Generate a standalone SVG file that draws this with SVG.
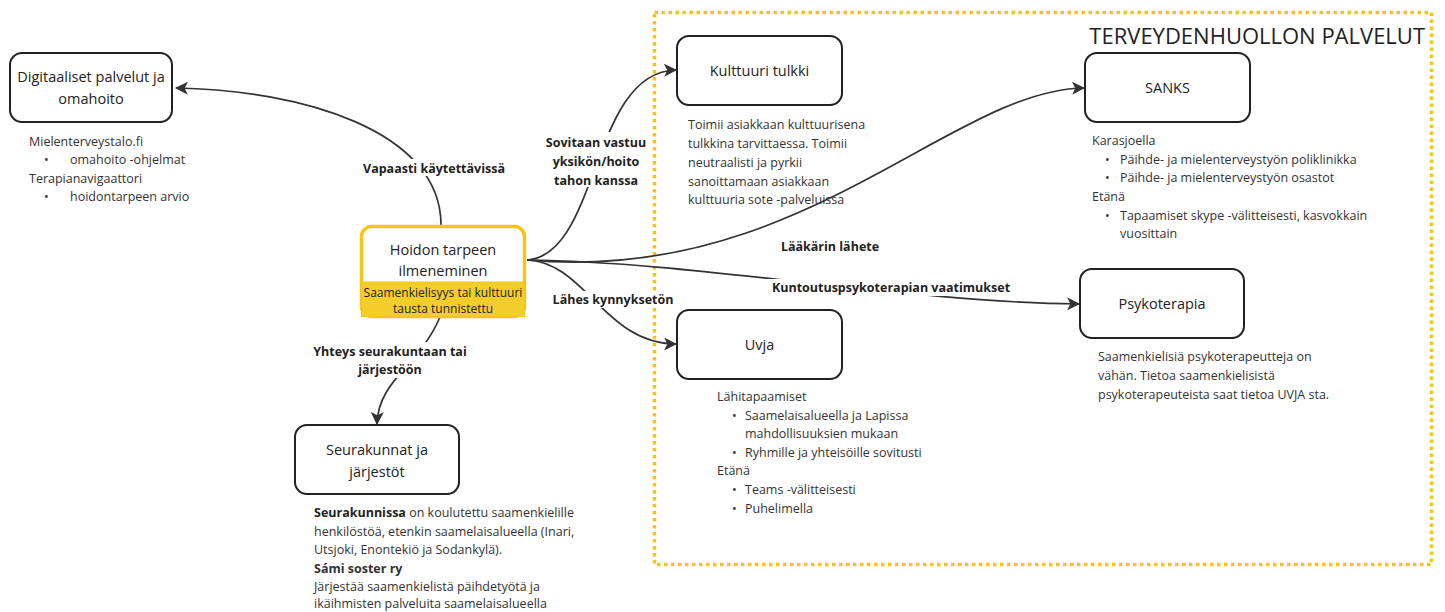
<svg xmlns="http://www.w3.org/2000/svg" width="1445" height="612" viewBox="0 0 1445 612">
<style>
.box{fill:#fff;stroke:#222;stroke-width:2}
.nt{font-family:"Open Sans","Liberation Sans",sans-serif;font-size:14.5px;fill:#222;text-anchor:middle}
.st{font-family:"Open Sans","Liberation Sans",sans-serif;font-size:12px;fill:#222;text-anchor:middle}
.dt{font-family:"Open Sans","Liberation Sans",sans-serif;font-size:12.5px;fill:#333}
.lb{font-family:"Open Sans","Liberation Sans",sans-serif;font-size:12.5px;font-weight:bold;fill:#222;text-anchor:middle}
.lbbg{fill:#fff}
.con{fill:none;stroke:#333;stroke-width:1.7}
</style>
<defs>
<marker id="arr" viewBox="0 0 12 12" refX="11" refY="6" markerWidth="13" markerHeight="13" markerUnits="userSpaceOnUse" orient="auto">
<path d="M0,0 L12,6 L0,12 L3,6 Z" fill="#333"/>
</marker>
</defs>
<rect width="1445" height="612" fill="#fff"/>
<g id="frame">
<rect x="654.5" y="12.5" width="777" height="552" fill="none" stroke="#F5C518" stroke-width="3.5" stroke-dasharray="3.5,3.5"/>
<text x="1425" y="44" font-family="'Open Sans','Liberation Sans',sans-serif" font-size="22" fill="#222" text-anchor="end">TERVEYDENHUOLLON PALVELUT</text>
</g>
<g id="connectors">
<path class="con" d="M441,225 C441,130 300,90 176,88" marker-end="url(#arr)"/>
<path class="con" d="M527,260 C600,255 590,72 676,70" marker-end="url(#arr)"/>
<path class="con" d="M527,260 C800,285 950,90 1084,88" marker-end="url(#arr)"/>
<path class="con" d="M527,260 C700,262 900,302 1079,304" marker-end="url(#arr)"/>
<path class="con" d="M527,260 C585,262 605,344 676,344" marker-end="url(#arr)"/>
<path class="con" d="M440,317 C420,365 378,380 377,424" marker-end="url(#arr)"/>
<rect class="lbbg" x="358" y="159" width="152" height="17"/>
<text class="lb" x="434" y="173">Vapaasti käytettävissä</text>
<rect class="lbbg" x="547" y="132" width="99" height="55"/>
<text class="lb" x="596" y="147">Sovitaan vastuu</text>
<text class="lb" x="596" y="166">yksikön/hoito</text>
<text class="lb" x="596" y="185">tahon kanssa</text>
<rect class="lbbg" x="780" y="238" width="100" height="17"/>
<text class="lb" x="830" y="251">Lääkärin lähete</text>
<rect class="lbbg" x="767" y="279" width="250" height="17"/>
<text class="lb" x="891" y="292">Kuntoutuspsykoterapian vaatimukset</text>
<rect class="lbbg" x="550" y="291" width="126" height="17"/>
<text class="lb" x="613" y="304">Lähes kynnyksetön</text>
<rect class="lbbg" x="320" y="342" width="141" height="36"/>
<text class="lb" x="390" y="356">Yhteys seurakuntaan tai</text>
<text class="lb" x="390" y="374">järjestöön</text>
</g>
<g id="hoidon">
<rect x="361.5" y="226.5" width="163" height="90" rx="10" fill="#fff" stroke="#F5C518" stroke-width="3.5"/>
<rect x="361.5" y="282" width="163" height="34.5" fill="#F3CD2C" stroke="#F5C518" stroke-width="1"/>
<text class="nt" x="443" y="255">Hoidon tarpeen</text>
<text class="nt" x="443" y="276">ilmeneminen</text>
<text class="st" x="443" y="297">Saamenkielisyys tai kulttuuri</text>
<text class="st" x="443" y="313">tausta tunnistettu</text>
</g>
<g id="digitaaliset">
<rect class="box" x="10" y="53" width="162" height="69" rx="12"/>
<text class="nt" x="91" y="82">Digitaaliset palvelut ja</text>
<text class="nt" x="91" y="104">omahoito</text>
<text class="dt" x="29" y="146">Mielenterveystalo.fi</text>
<text class="dt" x="44" y="164">•</text>
<text class="dt" x="70" y="164">omahoito -ohjelmat</text>
<text class="dt" x="29" y="183">Terapianavigaattori</text>
<text class="dt" x="44" y="201">•</text>
<text class="dt" x="70" y="201">hoidontarpeen arvio</text>
</g>
<g id="kulttuuri">
<rect class="box" x="677" y="36" width="165" height="69" rx="12"/>
<text class="nt" x="759.5" y="76">Kulttuuri tulkki</text>
<text class="dt" x="688" y="129">Toimii asiakkaan kulttuurisena</text>
<text class="dt" x="688" y="148">tulkkina tarvittaessa. Toimii</text>
<text class="dt" x="688" y="167">neutraalisti ja pyrkii</text>
<text class="dt" x="688" y="186">sanoittamaan asiakkaan</text>
<text class="dt" x="688" y="204">kulttuuria sote -palveluissa</text>
</g>
<g id="sanks">
<rect class="box" x="1085" y="53" width="165" height="69" rx="12"/>
<text class="nt" x="1167.5" y="93">SANKS</text>
<text class="dt" x="1092" y="145">Karasjoella</text>
<text class="dt" x="1105" y="164">•</text>
<text class="dt" x="1120" y="164">Päihde- ja mielenterveystyön poliklinikka</text>
<text class="dt" x="1105" y="182">•</text>
<text class="dt" x="1120" y="182">Päihde- ja mielenterveystyön osastot</text>
<text class="dt" x="1092" y="201">Etänä</text>
<text class="dt" x="1105" y="220">•</text>
<text class="dt" x="1120" y="220">Tapaamiset skype -välitteisesti, kasvokkain</text>
<text class="dt" x="1120" y="238">vuosittain</text>
</g>
<g id="psykoterapia">
<rect class="box" x="1080" y="269" width="164" height="69" rx="12"/>
<text class="nt" x="1162" y="309">Psykoterapia</text>
<text class="dt" x="1098" y="361">Saamenkielisiä psykoterapeutteja on</text>
<text class="dt" x="1098" y="380">vähän. Tietoa saamenkielisistä</text>
<text class="dt" x="1098" y="399">psykoterapeuteista saat tietoa UVJA sta.</text>
</g>
<g id="uvja">
<rect class="box" x="677" y="310" width="165" height="69" rx="12"/>
<text class="nt" x="759.5" y="350">Uvja</text>
<text class="dt" x="717" y="401">Lähitapaamiset</text>
<text class="dt" x="732" y="420">•</text>
<text class="dt" x="745" y="420">Saamelaisalueella ja Lapissa</text>
<text class="dt" x="745" y="438">mahdollisuuksien mukaan</text>
<text class="dt" x="732" y="457">•</text>
<text class="dt" x="745" y="457">Ryhmille ja yhteisöille sovitusti</text>
<text class="dt" x="717" y="475">Etänä</text>
<text class="dt" x="732" y="494">•</text>
<text class="dt" x="745" y="494">Teams -välitteisesti</text>
<text class="dt" x="732" y="513">•</text>
<text class="dt" x="745" y="513">Puhelimella</text>
</g>
<g id="seurakunnat">
<rect class="box" x="295" y="425" width="164" height="69" rx="12"/>
<text class="nt" x="377" y="455">Seurakunnat ja</text>
<text class="nt" x="377" y="477">järjestöt</text>
<text class="dt" x="314" y="517"><tspan font-weight="bold" fill="#222">Seurakunnissa</tspan> on koulutettu saamenkielille</text>
<text class="dt" x="314" y="536">henkilöstöä, etenkin saamelaisalueella (Inari,</text>
<text class="dt" x="314" y="554">Utsjoki, Enontekiö ja Sodankylä).</text>
<text class="dt" x="314" y="573" font-weight="bold" fill="#222">Sámi soster ry</text>
<text class="dt" x="314" y="591">Järjestää saamenkielistä päihdetyötä ja</text>
<text class="dt" x="314" y="608">ikäihmisten palveluita saamelaisalueella</text>
</g>
</svg>
